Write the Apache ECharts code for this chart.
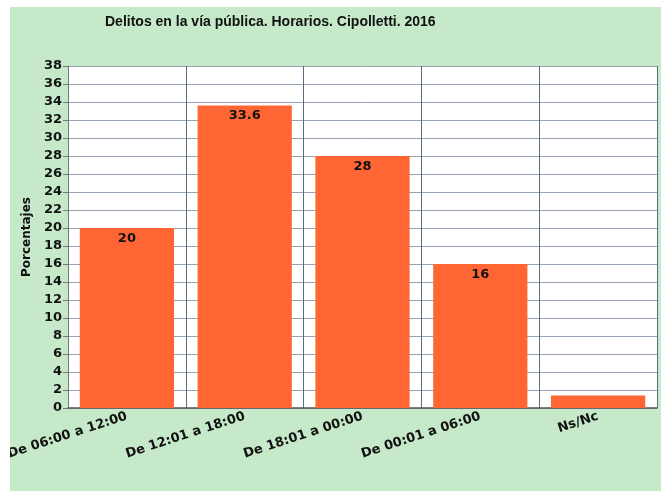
<!DOCTYPE html>
<html>
<head>
<meta charset="utf-8">
<script src="https://cdn.jsdelivr.net/npm/echarts@6/dist/echarts.min.js"></script>
<style>
  html, body { margin: 0; padding: 0; background: #ffffff; overflow: hidden; }
  #wrap { position: absolute; left: 10px; top: 7px; width: 651px; height: 484px; background: #c5e9c9; }
  #chart { width: 651px; height: 484px; }
</style>
</head>
<body>
<div id="wrap"><div id="chart"></div></div>
<script>
// datos
const categorias = ['De 06:00 a 12:00', 'De 12:01 a 18:00', 'De 18:01 a 00:00', 'De 00:01 a 06:00', 'Ns/Nc']
const porcentajes = [20, 33.6, 28, 16, 1.4]
const titulo = 'Delitos en la vía pública. Horarios. Cipolletti. 2016'

const fuente = 'DejaVu Sans'
const chart = echarts.init(document.getElementById('chart'))

const option = {
  backgroundColor: 'transparent',
  title: {
    text: titulo,
    left: 90,
    top: 3,
    textStyle: { fontFamily: 'Liberation Sans', fontWeight: 'bold', fontSize: 14, color: '#111' }
  },
  grid: {
    left: 58, right: 4, top: 59, bottom: 83,
    outerBoundsMode: 'none',
    backgroundColor: '#ffffff', show: true, borderWidth: 0
  },
  xAxis: {
    type: 'category',
    data: categorias,
    axisLine: { lineStyle: { color: '#555', width: 1.5 } },
    axisTick: { show: false },
    splitLine: { show: true, lineStyle: { color: '#5d6b80', width: 1 } },
    axisLabel: {
      rotate: 18,
      margin: 8,
      interval: 0,
      fontFamily: fuente,
      fontWeight: 'bold',
      fontSize: 13,
      color: '#111'
    }
  },
  yAxis: {
    type: 'value',
    min: 0,
    max: 38,
    interval: 2,
    name: 'Porcentajes',
    nameLocation: 'middle',
    nameGap: 33,
    nameTextStyle: { fontFamily: fuente, fontWeight: 'bold', fontSize: 12, color: '#111' },
    axisLine: { show: true, lineStyle: { color: '#777' } },
    axisTick: { show: true, length: 5, lineStyle: { color: '#777' } },
    splitLine: { lineStyle: { color: '#95a3b3' } },
    axisLabel: { fontFamily: fuente, fontWeight: 'bold', fontSize: 13, color: '#111', margin: 6 }
  },
  series: [
    {
      type: 'bar',
      data: porcentajes,
      barWidth: '80%',
      itemStyle: { color: '#ff6633' },
      label: {
        show: true,
        position: 'insideTop',
        distance: 4,
        fontFamily: fuente,
        fontWeight: 'bold',
        fontSize: 13,
        color: '#111',
        formatter: p => (p.dataIndex === 4 ? '' : String(p.value))
      }
    }
  ]
}
chart.setOption(option)
</script>
</body>
</html>
